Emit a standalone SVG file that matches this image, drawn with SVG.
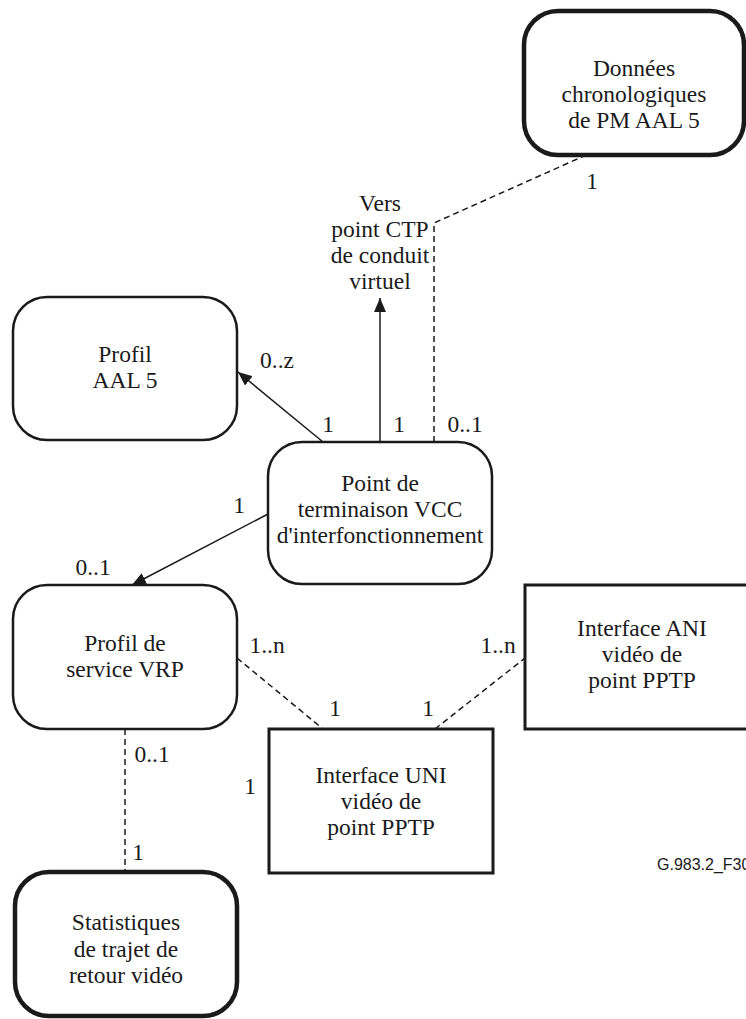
<svg xmlns="http://www.w3.org/2000/svg" width="746" height="1019" viewBox="0 0 746 1019">
  <defs>
    <style>
      .node { fill: #ffffff; stroke: #1a1a1a; stroke-width: 2.5; }
      .thick { stroke-width: 4.5; }
      .box { fill: #ffffff; stroke: #1a1a1a; stroke-width: 3; }
      .label { font-family: "Liberation Serif", "Times New Roman", serif; font-size: 23.5px; fill: #1a1a1a; text-anchor: middle; }
      .mult { font-family: "Liberation Serif", "Times New Roman", serif; font-size: 23.5px; fill: #1a1a1a; text-anchor: middle; }
      .solid { fill: none; stroke: #1a1a1a; stroke-width: 1.5; }
      .dashed { fill: none; stroke: #1a1a1a; stroke-width: 1.5; stroke-dasharray: 6 4; }
      .ref { font-family: "Liberation Sans", Arial, sans-serif; font-size: 16px; fill: #1a1a1a; }
    </style>
    <marker id="arrow" viewBox="0 0 14 12" refX="14" refY="6" markerWidth="14" markerHeight="12" markerUnits="userSpaceOnUse" orient="auto">
      <path d="M0,0 L14,6 L0,12 Z" fill="#1a1a1a"/>
    </marker>
  </defs>

  <!-- connectors -->
  <g id="connectors">
    <line class="solid" x1="323" y1="442" x2="238" y2="372" marker-end="url(#arrow)"/>
    <line class="solid" x1="380" y1="442" x2="380" y2="298" marker-end="url(#arrow)"/>
    <line class="solid" x1="268" y1="514" x2="132" y2="585" marker-end="url(#arrow)"/>
    <polyline class="dashed" points="434,442 434,223 584,156"/>
    <line class="dashed" x1="237" y1="658" x2="323" y2="729"/>
    <line class="dashed" x1="435" y1="729" x2="525" y2="658"/>
    <line class="dashed" x1="125" y1="729" x2="125" y2="872"/>

    <!-- multiplicities -->
    <text class="mult" x="592" y="189">1</text>
    <text class="mult" x="277" y="368">0..z</text>
    <text class="mult" x="328" y="432">1</text>
    <text class="mult" x="399" y="432">1</text>
    <text class="mult" x="465" y="432">0..1</text>
    <text class="mult" x="239" y="513">1</text>
    <text class="mult" x="93" y="575">0..1</text>
    <text class="mult" x="267" y="653">1..n</text>
    <text class="mult" x="498" y="653">1..n</text>
    <text class="mult" x="335" y="716">1</text>
    <text class="mult" x="428" y="716">1</text>
    <text class="mult" x="250" y="794">1</text>
    <text class="mult" x="152" y="762">0..1</text>
    <text class="mult" x="138" y="860">1</text>

    <!-- target of the upward arrow -->
    <text class="label" x="380" y="211">Vers</text>
    <text class="label" x="380" y="237">point CTP</text>
    <text class="label" x="380" y="263">de conduit</text>
    <text class="label" x="380" y="289">virtuel</text>
  </g>

  <g id="donnees-pm-aal5">
    <rect class="node thick" x="524" y="11" width="220" height="144" rx="34" ry="34"/>
    <text class="label" x="634" y="76">Données</text>
    <text class="label" x="634" y="102">chronologiques</text>
    <text class="label" x="634" y="128">de PM AAL 5</text>
  </g>

  <g id="profil-aal5">
    <rect class="node" x="13" y="297" width="224" height="143" rx="34" ry="34"/>
    <text class="label" x="125" y="362">Profil</text>
    <text class="label" x="125" y="388">AAL 5</text>
  </g>

  <g id="point-terminaison-vcc">
    <rect class="node" x="268" y="442" width="224" height="142" rx="34" ry="34"/>
    <text class="label" x="380" y="491">Point de</text>
    <text class="label" x="380" y="517">terminaison VCC</text>
    <text class="label" x="380" y="543">d'interfonctionnement</text>
  </g>

  <g id="profil-service-vrp">
    <rect class="node" x="13" y="585" width="224" height="144" rx="34" ry="34"/>
    <text class="label" x="125" y="651">Profil de</text>
    <text class="label" x="125" y="677">service VRP</text>
  </g>

  <g id="interface-ani">
    <rect class="box" x="525" y="585" width="240" height="144"/>
    <text class="label" x="642" y="636">Interface ANI</text>
    <text class="label" x="642" y="662">vidéo de</text>
    <text class="label" x="642" y="688">point PPTP</text>
  </g>

  <g id="interface-uni">
    <rect class="box" x="269" y="729" width="224" height="144"/>
    <text class="label" x="381" y="783">Interface UNI</text>
    <text class="label" x="381" y="809">vidéo de</text>
    <text class="label" x="381" y="835">point PPTP</text>
  </g>

  <g id="statistiques-retour">
    <rect class="node thick" x="15" y="872" width="222" height="144" rx="34" ry="34"/>
    <text class="label" x="126" y="930">Statistiques</text>
    <text class="label" x="126" y="957">de trajet de</text>
    <text class="label" x="126" y="983">retour vidéo</text>
  </g>

  <text class="ref" x="657" y="870">G.983.2_F30</text>
</svg>
